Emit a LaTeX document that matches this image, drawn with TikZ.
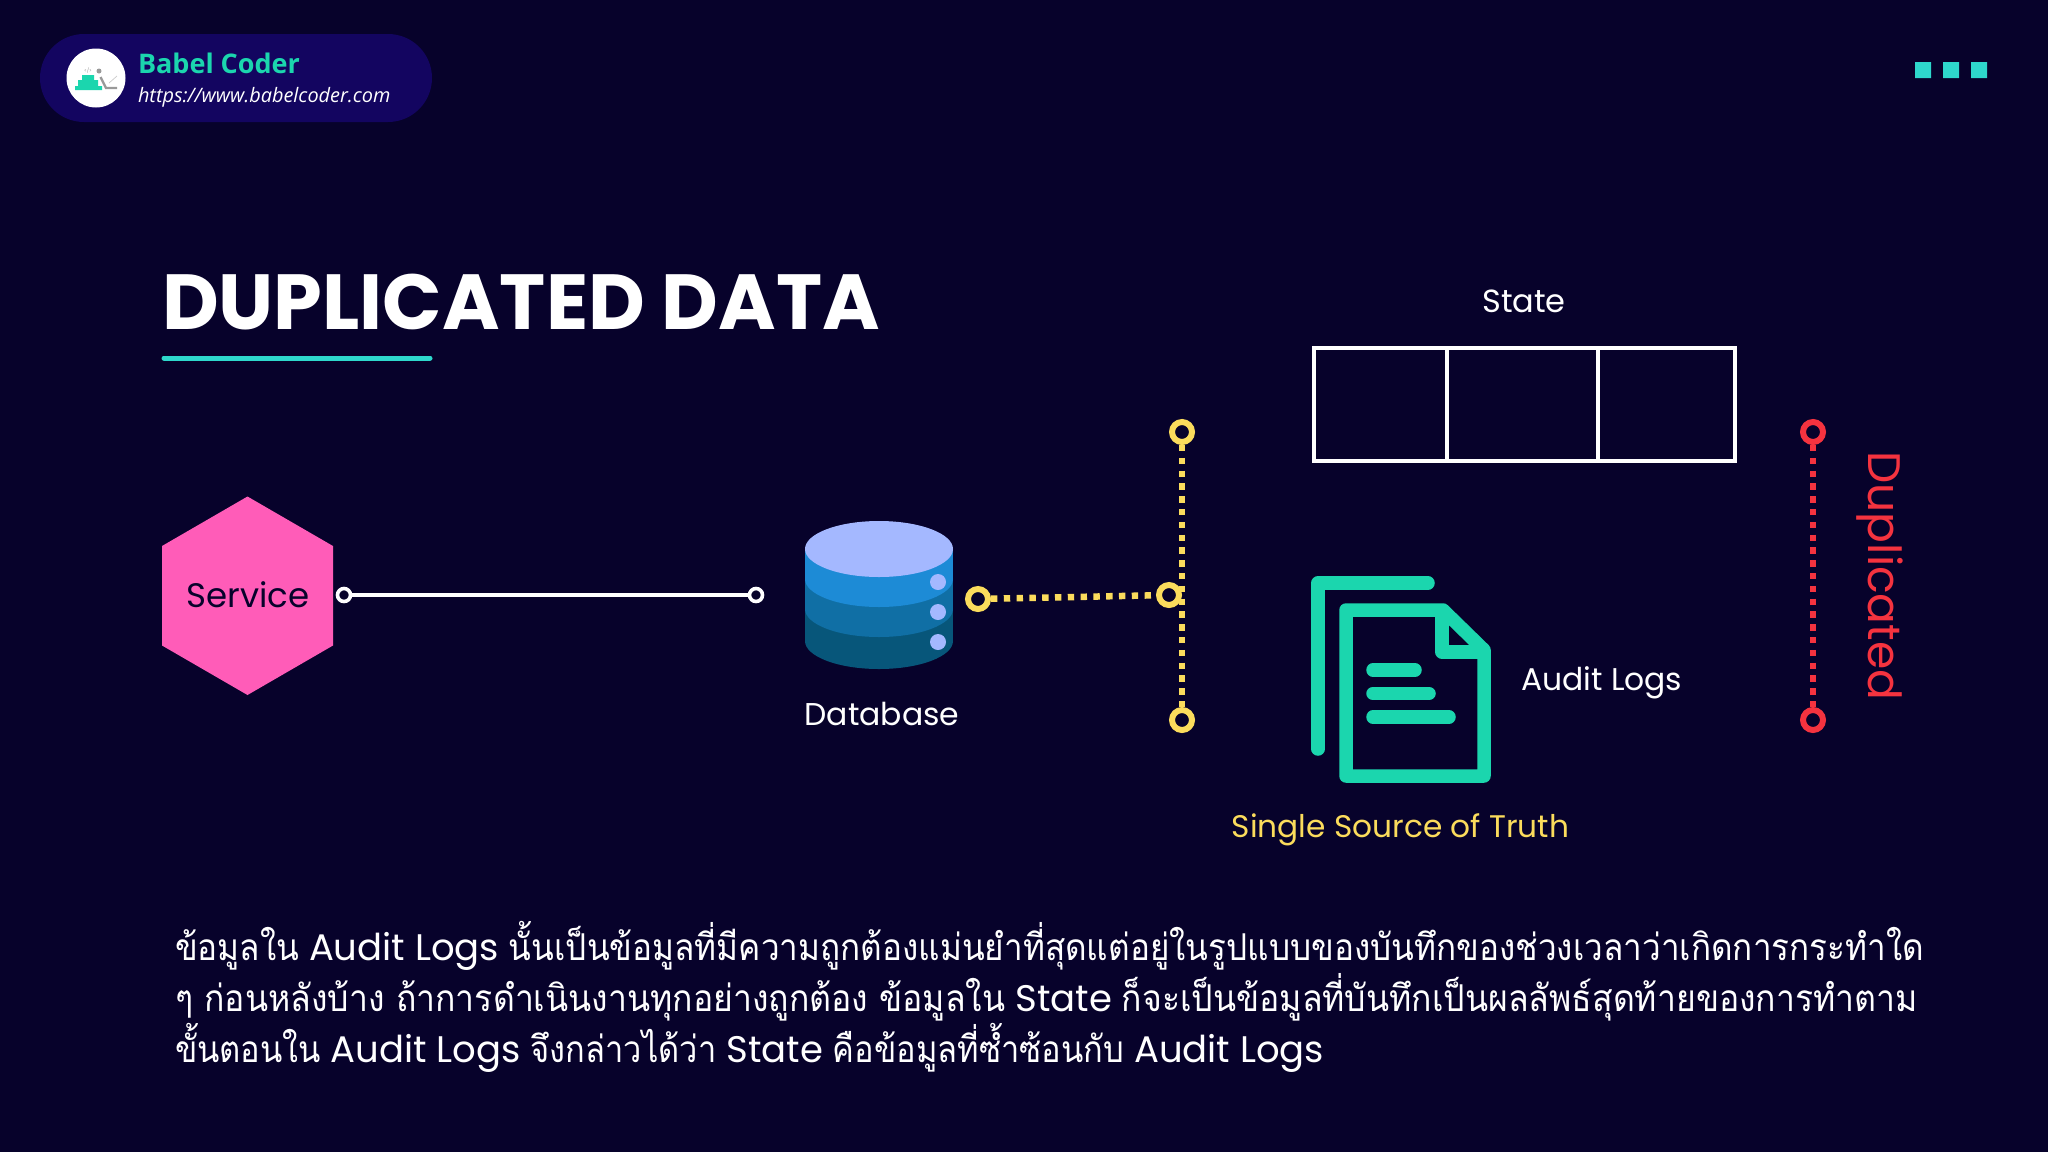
\documentclass[tikz,border=0pt]{standalone}
\usepackage{fontspec}
\setmainfont{Poppins}
\newfontfamily\thaifont[Script=Thai,FakeStretch=0.9]{Loma}
\newfontfamily\thaifontb[Script=Thai,FakeStretch=0.913]{Loma}
\newfontfamily\thaifontc[Script=Thai,FakeStretch=0.882]{Loma}
\newfontfamily\opensans{Open Sans}
\newcommand{\px}[1]{\fontsize{#1}{#1}\selectfont}
\newcommand{\tht}[1]{{\thaifont #1}}
\newcommand{\thb}[1]{{\thaifontb #1}}
\newcommand{\thc}[1]{{\thaifontc #1}}
\definecolor{bgc}{HTML}{07022B}
\definecolor{pillc}{HTML}{130560}
\definecolor{tealc}{HTML}{1BD6AE}
\definecolor{cyanc}{HTML}{2ED8CC}
\definecolor{pinkc}{HTML}{FF5CB8}
\definecolor{yelc}{HTML}{FBDC5C}
\definecolor{redc}{HTML}{F5333F}
\definecolor{dbtop}{HTML}{A4B8FF}
\definecolor{dba}{HTML}{1D8BD6}
\definecolor{dbb}{HTML}{106FA5}
\definecolor{dbc}{HTML}{07567A}
\definecolor{logog}{HTML}{999999}
\tikzset{
  txt/.style={inner sep=0pt,outer sep=0pt,text=white},
  whitering/.style={circle,draw=white,fill=bgc,line width=3.6pt,minimum size=13pt,inner sep=0pt},
  yelring/.style={circle,draw=yelc,fill=bgc,line width=6pt,minimum size=20pt,inner sep=0pt},
  redring/.style={circle,draw=redc,fill=bgc,line width=6pt,minimum size=20pt,inner sep=0pt},
  dotline/.style={line width=6.5pt,dash pattern=on 6.4pt off 6.4pt},
  iconline/.style={draw=tealc,line width=13.5pt,line cap=round,line join=round},
  paraline/.style={txt,anchor=base west,font=\px{37}},
}
\begin{document}
\begin{tikzpicture}[x=1pt,y=-1pt]
\useasboundingbox (0,0) rectangle (2048,1152);
\fill[bgc] (0,0) rectangle (2048,1152);
% header pill
\fill[pillc,rounded corners=44pt] (40,34) rectangle (432,122);
\node[circle,fill=white,minimum size=59pt,inner sep=0pt] (logo) at (96,78) {};
\fill[tealc] (75,86) rectangle (102,90) (78,80) rectangle (98,86) (82,75) rectangle (94,80);
\fill[logog] (99,71) circle[radius=2.5];
\draw[logog,line width=2.4pt] (100.5,77) -- (106,88) -- (117,88);
\draw[logog!50,line width=.7pt] (109,83) -- (117,76);
\node[txt,text=logog,font=\px{5}] (logotag) at (88,70.5) {</>};
\node[txt,anchor=base west,text=tealc,font={\opensans\bfseries\px{27}}] (brand) at (138,73) {Babel Coder};
\node[txt,anchor=base west,font={\opensans\itshape\px{19.9}}] (url) at (138,102) {https://www.babelcoder.com};
% top right marks
\fill[cyanc] (1915,62) rectangle (1931,78) (1943,62) rectangle (1959,78) (1971,62) rectangle (1987,78);
% title
\node[txt,anchor=base west,font={\bfseries\px{78.1}}] (title) at (162,329) {DUPLICATED DATA};
\draw[cyanc,line width=5pt,line cap=round] (164,358) -- (430,358);
% service
\fill[pinkc] (247.5,496.5) -- (333,546) -- (333,645.5) -- (247.5,695) -- (162,645.5) -- (162,546) -- cycle;
\node[txt,font=\px{34},text=bgc] (service) at (248,595) {Service};
\node[whitering] (sa) at (344,595) {};
\node[whitering] (sb) at (756,595) {};
\draw[white,line width=3.6pt] (sa) -- (sb);
% database
\fill[dbc] (805,549) rectangle (953,641); \fill[dbc] (879,641) circle[x radius=74,y radius=28];
\fill[dbb] (805,549) rectangle (953,609); \fill[dbb] (879,609) circle[x radius=74,y radius=28];
\fill[dba] (805,549) rectangle (953,579); \fill[dba] (879,579) circle[x radius=74,y radius=28];
\fill[dbtop] (879,549) circle[x radius=74,y radius=28];
\fill[dbtop] (938,582) circle[radius=8] (938,612) circle[radius=8] (938,642) circle[radius=8];
\node[txt,anchor=base,font=\px{31.5}] (database) at (882,725) {Database};
% yellow bracket
\node[yelring] (yt) at (1182,432) {};
\node[yelring] (yb) at (1182,720) {};
\node[yelring] (ys) at (978,599) {};
\draw[yelc,dotline] (yt) -- (yb);
\node[yelring] (ym) at (1169,595) {};
\draw[yelc,dotline] (ys) -- (ym);
% state
\draw[white,line width=4pt] (1313.5,348) rectangle (1735,461) (1447,348) -- (1447,461) (1598,348) -- (1598,461);
\node[txt,font=\px{32}] (state) at (1524,301.5) {State};
% doc icon
\draw[iconline] (1318,749) -- (1318,583) -- (1428,583);
\draw[iconline] (1346,610) -- (1443,610) -- (1484,650) -- (1484,776) -- (1346,776) -- cycle;
\draw[iconline] (1442,611) -- (1442,652) -- (1484,652);
\draw[iconline] (1373,670) -- (1415,670) (1373,693.5) -- (1429,693.5) (1373,717) -- (1449,717);
\node[txt,anchor=west,font=\px{31.4}] (audit) at (1521,683) {Audit Logs};
\node[txt,text=yelc,font=\px{31.2}] (truth) at (1400.5,830) {Single Source of Truth};
% red bracket
\node[redring] (rt) at (1813,432) {};
\node[redring] (rb) at (1813,720) {};
\draw[redc,dotline] (rt) -- (rb);
\node[txt,text=redc,rotate=-90,font=\px{45.6}] (dup) at (1880,576) {Duplicated};
% paragraph
\node[paraline] (l1) at (175,960) {\tht{ข้อมูลใน} Audit Logs \tht{นั้นเป็นข้อมูลที่มีความถูกต้องแม่นยำที่สุดแต่อยู่ในรูปแบบของบันทึกของช่วงเวลาว่าเกิดการกระทำใด}};
\node[paraline] (l2) at (175,1011) {\thb{ๆ ก่อนหลังบ้าง ถ้าการดำเนินงานทุกอย่างถูกต้อง ข้อมูลใน} State \thb{ก็จะเป็นข้อมูลที่บันทึกเป็นผลลัพธ์สุดท้ายของการทำตาม}};
\node[paraline] (l3) at (175,1062) {\thc{ขั้นตอนใน} Audit Logs \thc{จึงกล่าวได้ว่า} State \thc{คือข้อมูลที่ซ้ำซ้อนกับ} Audit Logs};
\end{tikzpicture}
\end{document}
